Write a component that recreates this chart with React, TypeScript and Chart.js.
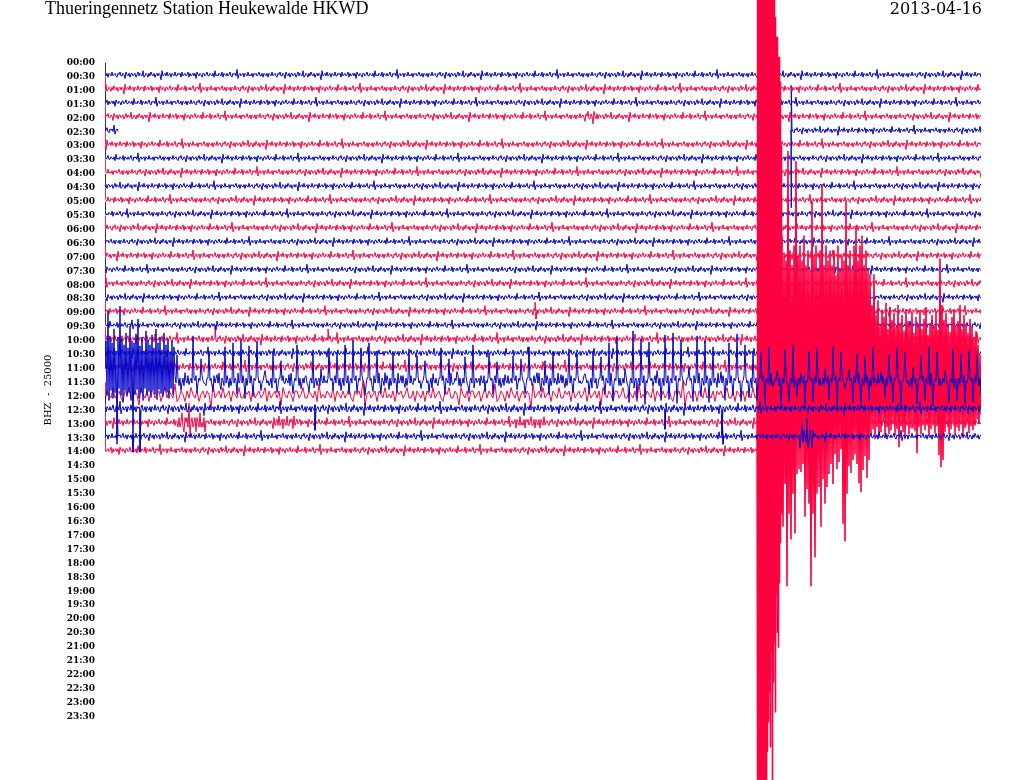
import React, { useEffect, useRef } from "react";
import { Chart, registerables } from "chart.js";

Chart.register(...registerables);

const TITLE = "Thueringennetz Station Heukewalde HKWD";
const DATE_LABEL = "2013-04-16";
const AXIS_TITLE = "BHZ  -  25000";

const timeLabels = [
  "00:00", "00:30", "01:00", "01:30", "02:00", "02:30", "03:00", "03:30",
  "04:00", "04:30", "05:00", "05:30", "06:00", "06:30", "07:00", "07:30",
  "08:00", "08:30", "09:00", "09:30", "10:00", "10:30", "11:00", "11:30",
  "12:00", "12:30", "13:00", "13:30", "14:00", "14:30", "15:00", "15:30",
  "16:00", "16:30", "17:00", "17:30", "18:00", "18:30", "19:00", "19:30",
  "20:00", "20:30", "21:00", "21:30", "22:00", "22:30", "23:00", "23:30",
];

// one row = 30 minutes = 876 samples; row spacing = 14 amplitude units
const SAMPLES_PER_ROW = 876;
const ROW_UNITS = 14;
const FIRST_ROW = 1;
const LAST_ROW = 28;
const LAST_ROW_END = 652;
const CODA_ROW = 23;
const QUAKE_ROW = 24;
const QUAKE_ONSET = 652;
const START_OFFSET = -12;

// background noise (amplitude units)
const noisePattern = [
  0, 1, -1, 2, -1, 0, 1, -2, 1, 0,
  -1, 1, 2, -1, 0, -2, 1, 1, -1, 0,
  3, -2, 0, 1, -1, 2, -1, -1, 1, 0,
  -1, 2, 0, -2, 1, -1, 0, 1, -3, 2,
  1, -1, 0, 2, -1, 1, -2, 0, 1, -1,
  2, 0, -1, 1, -1, 0, 4, -3, 1, 0,
  -1, 1, -2, 1, 0, -1, 2, -1, 0, 1,
  -2, 1, 1, -1, 0, -1, 2, -2, 1, 0,
  -1, 1, 0, -2, 2, -1, 1, 0, -1, 1,
  -1, 3, -2, 0, 1, -1, 0, 2, -1, -1,
  1, 0, -2, 1, 1, -1, 0, 1, -1, 2,
  -3, 1, 0, 1, -1, 0, 1, -2, 2, -1,
  0, 1, -1, 1, 0, -2, 1, 2, -1, 0,
  -1, 1, -4, 3, 0, -1, 1, 0, -1, 2,
  -1, 0, 1, -2, 1, 0, 1, -1, 2, -1,
  0, -1, 1, 0, -2, 1, 1, -1, 2, -1,
];

const rowPhase = [
  0, 0, 37, 81, 12, 123, 55, 99, 140, 23, 67, 110, 5, 148, 44,
  90, 131, 18, 72, 105, 60, 29, 152, 84, 3, 117, 48, 136, 77,
];

const rowNoiseScale = [
  1.3, 1.3, 1.4, 1.3, 1.4, 1.3, 1.4, 1.3, 1.4, 1.3, 1.4, 1.3, 1.4, 1.3, 1.4,
  1.3, 1.4, 1.3, 1.4, 1.3, 1.6, 1.5, 1.7, 2.5, 3.5, 1.8, 1.6, 1.5, 1.5,
];

// sample step of each row's noise (12:00 trace is smoother)
const rowStep = [
  1, 1, 1, 1, 1, 1, 1, 1, 1, 1, 1, 1, 1, 1, 1,
  1, 1, 1, 1, 1, 1, 1, 1, 1, 2, 1, 1, 1, 1,
];

// [row, fromSample, toSample, factor]
const bursts = [
  [26, 73, 100, 3],
  [26, 170, 192, 2],
  [26, 410, 440, 1.8],
  [27, 695, 708, 4],
  [4, 480, 492, 1.8],
];

// [row, sample, amplitude]
const spikes = [
  [5, 686, 78], [5, 686.5, -45],
  [18, 430, -9], [18, 431, 8],
  [20, 110, -14], [20, 223, -10],
  [25, 35, 44], [25, 210, 22], [25, 560, 21], [25, 617, 27],
  [27, 12, -30], [27, 28, 16], [27, 617, -21], [27, 618, 8],
];

// [row, lastSampleBeforeGap, firstSampleAfterGap]
const gaps = [[5, 13, 685]];

// 11:30 trace, first 70 samples (step 1)
const trace1130Start = [
  -12, -40, 15, -70, 20, -45, 10, -38, 18, -52, 12, -30, 64, -44, 8, -75, 15, -42, 22, -36,
  10, -48, 16, -33, 12, -55, 20, -40, 66, -38, 14, -47, 9, -62, 18, -35, 12, -44, 20, -30,
  8, -50, 15, -41, 11, -36, 17, -46, 10, -33, 14, -52, 19, -38, 9, -44, 13, -31, 16, -48,
  10, -36, 12, -42, 18, -29, 8, -40, 14, -34,
];

// 11:30 trace peaks from sample 72 on (every 4th sample)
const trace1130 = [
  -26, 10, -8, 4, -45, 12, -22, 3, -30, 11, -6, 9, -34, 7,
  -38, 14, -42, 18, -35, 16, -40, 10,
  -10, 5, -30, 12, -20, 3, -6, 13, -36, 8, -4, 11, -27, 5, -12, 2, -33, 9, -29, 10,
  -36, 14, -40, 12, -33, 15, -38, 11, -30, 13,
  -8, 9, -28, 12, -5, 7, -32, 4, -25, 8,
  -20, 12, -7, 3, -33, 14, -22, 4, -9, 6, -24, 13, -36, 2, -5, 11, -28, 14, -19, 7,
  -6, 3, -25, 9, -22, 13, -34, 2, -8, 11, -20, 14, -29, 4, -6, 7, -32, 12, -27, 3,
  -7, 13, -30, 8, -24,
  14, -38, 20, -44, 5, -12, 22, -50, 18, -42, 24, -39, 6, -10, 20, -46, 19, -48, 23, -41,
  4, -14, 21, -45, 16, -40, 22, -34, 7, -9, 20, -38, 15, -47, 21, -36, 17, -30,
  20, -28, 25, -34, 6, -10, 28, -31, 22, -36, 16, -8, 27, -30, 21, -33, 5, -12, 19, -35,
  26, -29, 8, -11, 23, -27, 28, -24, 20, -34, 4, -9, 17, -26, 22, -33, 27, -28, 6, -13,
  24, -25, 21, -35, 26, -29, 5, -10, 23, -32, 20, -27, 25, -30, 22, -26, 15,
];
const TRACE1130_FROM = 72;
const TRACE1130_STEP = 4;

// earthquake onset in the 12:00 trace: [sample, amplitude]
const quakeHead = [
  [652, 0], [652.4, -420], [652.8, 420], [653.2, -420], [653.6, 420], [654, -420],
  [654.4, 420], [654.8, -420], [655.2, 420], [655.6, -420], [656, 420], [656.4, -420],
  [656.8, 420], [657.2, -420], [657.6, 420], [658, -420], [658.4, 420], [658.8, -420],
  [659.2, 420], [659.6, -420], [660, 420], [660.4, -420], [660.8, 420], [661.2, -420],
  [661.6, 420], [662, -420], [662.5, 360], [663, -420], [663.5, 330], [664, -420],
  [664.5, 300], [665, -420], [665.5, 355], [666, -420], [666.5, 260], [667, -420],
  [667.5, 420], [668, -300], [668.5, 290], [669, -420], [669.5, 250], [670, -380],
  [670.5, 320], [671, -320], [671.5, 200], [672, -360], [672.5, 240], [673, -300],
  [673.5, 255], [674, -340], [674.5, 190], [675, -315], [675.5, 150], [676, -250],
  [676.5, 120],
];

// earthquake coda in the 12:00 trace from sample 677 on (step 1)
const quakeTail = [
  -160, 133, -140, 90, -135, 193, -245, 120, -145, 146, -130, 100, -150, 140, -235, 80, -140, 75, -150,
  78, -135, 70, -160, 123, -130, 95, -145, 110, -125, 193, -195, 120, -140, 164, -150, 100, -125, 93, -145,
  133, -212, 85, -130, 110, -150, 93, -135, 80, -145,
  70, -130, 90, -145, 60, -120, 75, -150, 68, -125, 55, -140, 130, -135, 148, -195, 100, -130, 72, -145,
  79, -125, 66, -150, 60, -170, 70, -135, 89, -150, 98, -160, 76, -130, 62, -145, 84, -125, 66, -121,
  40, -90, 35, -121, 45, -80, 30, -95, 42, -70, 38, -85, 28, -78, 44, -92, 33, -66, 40, -88,
  36, -75, 30, -82, 41, -68, 35, -90, 53, -72, 32, -80, 38, -64, 45, -86, 30, -74, 40, -70,
  34, -83, 29, -62, 37, -78, 59, -70, 33, -85, 40, -66, 28, -76, 36, -88, 31, -60, 42, -72,
  35, -80, 27, -69, 39, -84, 32, -65, 61, -137, 73, -90, 66, -75, 38, -82, 30, -70, 40, -63,
  35, -78, 29, -86, 41, -68, 33, -74, 37, -90, 30, -66, 43, -80, 34, -71, 28, -62, 39, -76,
  32, -68, 36, -58, 30, -64, 25, -50, 30, -40, 20,
];
const QUAKE_TAIL_FROM = 677;

const BLUE = "#0404c8";
const RED = "#ff0040";

type Pt = { x: number; y: number | null };

function noiseAt(k: number, i: number) {
  return noisePattern[(rowPhase[k] + i) % noisePattern.length];
}

function buildRow(k: number): Pt[] {
  const base = k * ROW_UNITS;
  const end = k === LAST_ROW ? LAST_ROW_END : SAMPLES_PER_ROW;
  const pts: Pt[] = [{ x: 0, y: base + START_OFFSET }];
  if (k === CODA_ROW) {
    for (let s = 0; s <= end; s++) {
      let v: number;
      const j = (s - TRACE1130_FROM) / TRACE1130_STEP;
      if (s < trace1130Start.length) v = trace1130Start[s];
      else if (j >= 0 && Number.isInteger(j) && j < trace1130.length) v = trace1130[j];
      else v = noiseAt(k, s) * rowNoiseScale[k];
      pts.push({ x: s, y: base + v });
    }
    return pts;
  }
  const step = rowStep[k];
  const noiseEnd = k === QUAKE_ROW ? QUAKE_ONSET : end;
  for (let i = 0; i * step <= noiseEnd; i++) {
    const s = i * step;
    const gap = gaps.find((g) => g[0] === k && s > g[1] && s < g[2]);
    if (gap) {
      if (s - step <= gap[1]) pts.push({ x: s, y: null });
      continue;
    }
    let scale = rowNoiseScale[k];
    bursts.forEach((b) => {
      if (b[0] === k && s >= b[1] && s <= b[2]) scale *= b[3];
    });
    pts.push({ x: s, y: base + noiseAt(k, i) * scale });
  }
  spikes
    .filter((p) => p[0] === k)
    .forEach((p) => pts.push({ x: p[1], y: base + p[2] }));
  pts.sort((a, b) => a.x - b.x);
  return pts;
}

function buildQuake(): Pt[] {
  const base = QUAKE_ROW * ROW_UNITS;
  const pts: Pt[] = [];
  quakeHead.forEach((p) => pts.push({ x: p[0], y: base + p[1] }));
  quakeTail.forEach((v, i) => pts.push({ x: QUAKE_TAIL_FROM + i, y: base + v }));
  return pts;
}

const headerPlugin = {
  id: "header",
  afterDraw(chart: any) {
    const { ctx } = chart;
    ctx.save();
    ctx.fillStyle = "#000";
    ctx.textBaseline = "alphabetic";
    ctx.textAlign = "left";
    ctx.font = '18px "Liberation Serif"';
    ctx.fillText(TITLE, 45, 13.5);
    ctx.textAlign = "right";
    ctx.font = '16px "DejaVu Serif"';
    ctx.fillText(DATE_LABEL, 982, 13.5);
    ctx.restore();
  },
};

export default function App() {
  const ref = useRef<HTMLCanvasElement | null>(null);

  useEffect(() => {
    if (!ref.current) return;
    const line = { pointRadius: 0, tension: 0, spanGaps: false };
    const datasets: any[] = [];
    for (let k = FIRST_ROW; k <= LAST_ROW; k++) {
      const blue = k % 2 === 1;
      datasets.push({
        ...line,
        label: timeLabels[k],
        data: buildRow(k),
        borderColor: blue ? BLUE : RED,
        backgroundColor: blue ? BLUE : RED,
        borderWidth: 1,
        order: k === QUAKE_ROW ? 1 : blue && k >= CODA_ROW ? 0 : 2,
      });
    }
    datasets.push({
      ...line,
      label: timeLabels[QUAKE_ROW] + " event",
      data: buildQuake(),
      borderColor: RED,
      backgroundColor: RED,
      borderWidth: 1.6,
      order: 1,
    });
    const chart = new Chart(ref.current, {
      type: "line",
      data: { datasets },
      options: {
        animation: false,
        responsive: false,
        devicePixelRatio: 1,
        layout: { padding: { left: 0, right: 43, top: 0, bottom: 0 }, autoPadding: false },
        plugins: {
          legend: { display: false },
          tooltip: { enabled: false },
          title: { display: false },
        },
        events: [],
        scales: {
          x: {
            type: "linear",
            min: 0,
            max: SAMPLES_PER_ROW,
            display: false,
          },
          y: {
            type: "linear",
            reverse: true,
            min: -61.1,
            max: 724,
            afterFit: (scale: any) => {
              scale.width = 105;
              scale.paddingTop = 0;
              scale.paddingBottom = 0;
            },
            afterBuildTicks: (scale: any) => {
              scale.ticks = timeLabels.map((_, i) => ({ value: i * ROW_UNITS + 2 }));
            },
            grid: { display: false, drawTicks: false },
            border: { display: false },
            ticks: {
              autoSkip: false,
              padding: 10,
              color: "#000",
              font: { family: "DejaVu Serif", size: 9, weight: "bold" },
              callback: (_v: any, i: number) => timeLabels[i],
            },
            title: {
              display: true,
              text: AXIS_TITLE,
              color: "#000",
              font: { family: "DejaVu Serif", size: 10 },
              padding: { top: 42, bottom: 0 },
            },
          },
        },
      },
      plugins: [headerPlugin],
    });
    return () => chart.destroy();
  }, []);

  return (
    <div style={{ position: "absolute", left: 0, top: 0, width: 1024, height: 780, background: "#fff" }}>
      <canvas ref={ref} width={1024} height={780} style={{ display: "block" }} />
    </div>
  );
}
